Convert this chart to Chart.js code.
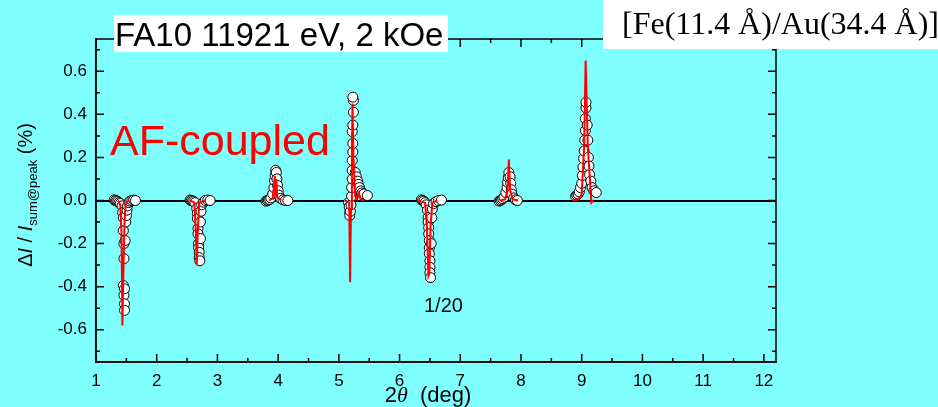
<!DOCTYPE html>
<html>
<head>
<meta charset="utf-8">
<script src="https://cdn.jsdelivr.net/npm/chart.js@4/dist/chart.umd.min.js"></script>
<style>
  html, body { margin: 0; padding: 0; background: #80ffff; }
</style>
</head>
<body>
<canvas id="myChart" width="938" height="407"></canvas>
<script>
// Measured points (2theta in deg, dI/I in %), grouped peak by peak
var obsX = [
  1.30,1.32,1.34,1.36,1.38,1.40, 1.43,1.44,1.45,1.45,1.46,1.46,1.45,1.46,1.47,1.47, 1.47,1.48,1.49,1.50,1.51,1.52, 1.54,1.56,1.59,1.62,1.65,
  2.55,2.57,2.59,2.61,2.63, 2.66,2.67,2.67,2.68,2.68,2.69,2.69,2.70,2.70,2.71, 2.72,2.72,2.73,2.74, 2.77,2.80,2.84,2.88,
  3.80,3.82,3.84,3.86,3.88, 3.91,3.93,3.94,3.95,3.96, 3.97,3.98,3.99,4.00,4.01, 4.04,4.08,4.12,4.16,
  5.16,5.17,5.18,5.18,5.19,5.20, 5.21,5.21,5.22,5.22,5.22,5.23,5.23,5.22,5.23,5.24,5.24,5.23, 5.27,5.29,5.31,5.32,5.34,5.36,5.38,5.41,5.47,
  6.36,6.38,6.40,6.42,6.44, 6.46,6.47,6.47,6.48,6.48,6.49,6.49,6.49,6.50,6.50,6.50,6.51, 6.52,6.53,6.54,6.56, 6.60,6.64,6.69,
  7.64,7.66,7.68,7.70,7.72, 7.75,7.77,7.78,7.79,7.80, 7.82,7.83,7.84,7.85, 7.88,7.91,7.94,
  8.90,8.92,8.94,8.96,8.98,9.00, 9.01,9.02,9.03,9.04,9.05,9.06,9.06,9.07,9.07, 9.09,9.10,9.11,9.12,9.13,9.15,9.17,9.20,9.24
];
var obsY = [
  0.003,0,-0.002,-0.005,-0.01,-0.014, -0.025,-0.056,-0.08,-0.14,-0.2,-0.27,-0.395,-0.44,-0.48,-0.51, -0.41,-0.186,-0.10,-0.07,-0.045,-0.025, -0.01,-0.003,0,0.002,0,
  0.002,0,-0.002,-0.005,-0.01, -0.037,-0.06,-0.084,-0.13,-0.155,-0.2,-0.22,-0.24,-0.265,-0.28, -0.177,-0.1,-0.05,-0.02, -0.008,0,0.002,0,
  -0.003,0,0.002,0.005,0.012, 0.03,0.06,0.093,0.116,0.14, 0.13,0.10,0.07,0.045,0.025, 0.01,0.003,0,0,
  -0.01,-0.03,-0.055,-0.07,-0.05,-0.02, 0.02,0.06,0.10,0.14,0.186,0.225,0.265,0.32,0.35,0.41,0.465,0.48, 0.13,0.11,0.09,0.075,0.06,0.045,0.035,0.03,0.023,
  0.003,0,-0.003,-0.01,-0.02, -0.045,-0.079,-0.10,-0.126,-0.155,-0.186,-0.22,-0.247,-0.28,-0.31,-0.335,-0.358, -0.2,-0.08,-0.04,-0.015, -0.005,0,0.002,
  -0.003,0,0.003,0.008,0.015, 0.037,0.06,0.084,0.107,0.13, 0.11,0.08,0.05,0.03, 0.012,0.003,0,
  0.02,0.025,0.03,0.04,0.06,0.08, 0.116,0.155,0.195,0.23,0.28,0.325,0.38,0.43,0.456, 0.35,0.28,0.2,0.16,0.12,0.09,0.06,0.045,0.037
];

// Fitted curve (red)
var fitX = [
  1.20,1.36,1.40,1.42,1.435,1.45,1.47,1.49,1.55,
  2.55,2.62,2.645,2.66,2.675,2.70,2.80,
  3.85,3.91,3.93,3.945,3.955,3.97,3.985,4.05,
  5.10,5.17,5.185,5.20,5.215,5.225,5.24,5.27,5.30,5.33,5.36,5.42,
  6.30,6.42,6.45,6.475,6.49,6.51,6.54,6.62,
  7.65,7.74,7.78,7.80,7.82,7.86,7.95,
  8.85,8.95,9.00,9.04,9.065,9.10,9.16,9.19,9.30
];
var fitY = [
  0,0,-0.02,-0.15,-0.58,-0.35,-0.10,-0.01,0,
  0,-0.01,-0.15,-0.30,-0.15,-0.01,0,
  0,0.01,0.06,0.115,0.02,0.10,0.015,0,
  0,-0.01,-0.38,-0.04,0.25,0.45,0.2,0.02,0.005,0.035,0.005,0,
  0,-0.01,-0.12,-0.35,-0.34,-0.12,-0.01,0,
  0,0.005,0.05,0.19,0.05,0.005,0,
  0,0.005,0.03,0.25,0.65,0.25,-0.01,0,0
];

var xTicks = [1,2,3,4,5,6,7,8,9,10,11,12];
var sans = "'Liberation Sans', Arial, sans-serif";
var serif = "'Liberation Serif', 'Times New Roman', serif";

function pairs(xs, ys) {
  return xs.map(function (v, i) { return {x: v, y: ys[i]}; });
}

// frame, inward ticks and the text annotations
var decor = {
  id: 'decor',
  afterDraw: function (chart) {
    var ctx = chart.ctx, a = chart.chartArea, x = chart.scales.x, y = chart.scales.y;
    ctx.save();
    ctx.strokeStyle = '#000';
    ctx.lineWidth = 1.5;
    ctx.strokeRect(a.left, a.top, a.right - a.left, a.bottom - a.top);
    ctx.beginPath();
    for (var i = 2; i <= 24; i++) {
      var px = x.getPixelForValue(i / 2);
      var len = i % 2 === 0 ? 8 : 4;
      ctx.moveTo(px, a.bottom); ctx.lineTo(px, a.bottom - len);
      ctx.moveTo(px, a.top); ctx.lineTo(px, a.top + len);
    }
    for (var j = -7; j <= 7; j++) {
      var py = y.getPixelForValue(j / 10);
      var l2 = j % 2 === 0 ? 8 : 4;
      ctx.moveTo(a.left, py); ctx.lineTo(a.left + l2, py);
      ctx.moveTo(a.right, py); ctx.lineTo(a.right - l2, py);
    }
    ctx.stroke();

    // y axis title
    ctx.save();
    ctx.translate(32, 195);
    ctx.rotate(-Math.PI / 2);
    drawParts(ctx, [
      {t: '\u0394', f: '20px ' + sans, dy: 0},
      {t: 'I', f: 'italic 20px ' + sans, dy: 0},
      {t: ' / ', f: '20px ' + sans, dy: 0},
      {t: 'I', f: 'italic 20px ' + sans, dy: 0},
      {t: 'sum@peak', f: '13px ' + sans, dy: 5},
      {t: ' (%)', f: '20px ' + sans, dy: 0}
    ], 0, 0);
    ctx.restore();

    // x axis title
    drawParts(ctx, [
      {t: '2', f: '22px ' + sans, dy: 0},
      {t: '\u03b8', f: 'italic 22px ' + serif, dy: 0},
      {t: '  (deg)', f: '22px ' + sans, dy: 0}
    ], 428, 402);

    ctx.fillStyle = '#ff0000';
    ctx.font = '43px ' + sans;
    ctx.textAlign = 'left';
    ctx.textBaseline = 'alphabetic';
    ctx.fillText('AF-coupled', 110, 155);

    ctx.fillStyle = '#000';
    ctx.font = '20px ' + sans;
    ctx.fillText('1/20', 424, 312);

    // title box
    ctx.fillStyle = '#fff';
    ctx.fillRect(114, 15, 334, 37);
    ctx.fillStyle = '#000';
    ctx.font = '33px ' + sans;
    ctx.fillText('FA10 11921 eV, 2 kOe', 115, 46);

    // sample box
    ctx.fillStyle = '#fff';
    ctx.fillRect(603, 0, 335, 49);
    ctx.fillStyle = '#000';
    ctx.font = '32px ' + serif;
    ctx.fillText('[Fe(11.4 \u00c5)/Au(34.4 \u00c5)]', 622, 34);
    ctx.restore();
  }
};

function drawParts(ctx, parts, cx, base) {
  var total = 0;
  parts.forEach(function (p) { ctx.font = p.f; p.w = ctx.measureText(p.t).width; total += p.w; });
  var pos = cx - total / 2;
  ctx.fillStyle = '#000';
  ctx.textAlign = 'left';
  ctx.textBaseline = 'alphabetic';
  parts.forEach(function (p) {
    ctx.font = p.f;
    ctx.fillText(p.t, pos, base + p.dy);
    pos += p.w;
  });
}

var ctx = document.getElementById('myChart');
var myChart = new Chart(ctx, {
  type: 'scatter',
  data: {
    datasets: [
      {
        data: pairs(fitX, fitY),
        showLine: true,
        borderColor: '#ff0000',
        borderWidth: 2,
        pointRadius: 0,
        tension: 0,
        // the flat stretches between peaks sit under the black zero line
        segment: {
          borderColor: function (c) {
            return c.p0.parsed.y === 0 && c.p1.parsed.y === 0 ? 'rgba(0,0,0,0)' : undefined;
          }
        }
      },
      {
        data: pairs(obsX, obsY),
        pointRadius: 5,
        pointBorderWidth: 1,
        pointBorderColor: '#000',
        pointBackgroundColor: '#fff'
      }
    ]
  },
  options: {
    responsive: false,
    animation: false,
    layout: { padding: { left: 0, right: 162, top: 39, bottom: 0 } },
    plugins: { legend: { display: false }, tooltip: { enabled: false } },
    scales: {
      x: {
        type: 'linear', min: 1, max: 12.2,
        afterFit: function (s) { s.height = 45; },
        afterBuildTicks: function (s) { s.ticks = xTicks.map(function (v) { return {value: v}; }); },
        ticks: { color: '#000', font: { family: sans, size: 17 }, padding: 9, maxRotation: 0, autoSkip: false },
        grid: { drawOnChartArea: false, drawTicks: false },
        border: { color: '#000', width: 1.5 }
      },
      y: {
        min: -0.75, max: 0.75,
        afterFit: function (s) { s.width = 96; },
        ticks: {
          stepSize: 0.2, includeBounds: false, color: '#000', padding: 9,
          font: { family: sans, size: 17 },
          callback: function (v) { return Math.abs(v) < 1e-9 ? '0.0' : v.toFixed(1); }
        },
        grid: {
          drawTicks: false,
          lineWidth: 2,
          color: function (c) { return c.tick && Math.abs(c.tick.value) < 1e-9 ? '#000' : 'rgba(0,0,0,0)'; }
        },
        border: { color: '#000', width: 1.5 }
      }
    }
  },
  plugins: [decor]
});
</script>
</body>
</html>
